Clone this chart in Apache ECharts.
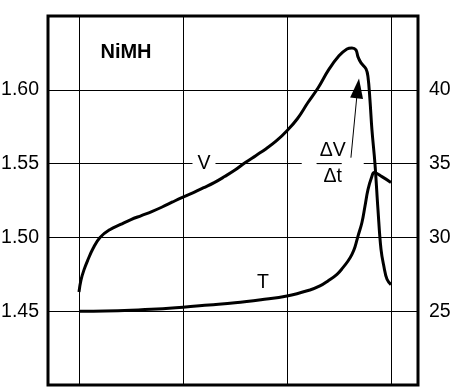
<!DOCTYPE html>
<html>
<head>
<meta charset="utf-8">
<script src="https://cdn.jsdelivr.net/npm/echarts@6/dist/echarts.min.js"></script>
<style>html,body{margin:0;padding:0;background:#fff;}#c{width:455px;height:392px;}</style>
</head>
<body>
<div id="c"></div>
<script>
// Voltage curve (left axis, volts) vs charge time (arbitrary units, gridlines at 0..3)
const timeV = [0, 0.019, 0.048, 0.087, 0.135, 0.202, 0.3, 0.4, 0.5, 0.6, 0.7, 0.8, 0.9, 1.0, 1.1, 1.2, 1.3, 1.4, 1.5, 1.6, 1.7, 1.8, 1.9, 2.0, 2.1, 2.2, 2.3, 2.4, 2.5, 2.577, 2.625, 2.663, 2.683, 2.712, 2.76, 2.779, 2.798, 2.817, 2.846, 2.875, 2.904, 2.933, 2.962, 3.0];
const voltage = [1.463, 1.471, 1.478, 1.485, 1.4925, 1.500, 1.5054, 1.5088, 1.5121, 1.5148, 1.5175, 1.5206, 1.524, 1.5273, 1.5304, 1.5337, 1.5371, 1.5412, 1.5456, 1.5507, 1.5554, 1.5601, 1.5655, 1.5723, 1.5804, 1.5912, 1.6014, 1.6135, 1.623, 1.6277, 1.6284, 1.627, 1.6223, 1.6182, 1.6142, 1.6088, 1.5932, 1.573, 1.550, 1.519, 1.492, 1.480, 1.4716, 1.468];
// Temperature curve (right axis, °C)
const timeT = [0, 0.25, 0.5, 0.75, 1.0, 1.25, 1.5, 1.75, 2.0, 2.221, 2.317, 2.394, 2.481, 2.538, 2.587, 2.625, 2.654, 2.683, 2.721, 2.75, 2.779, 2.817, 2.837, 2.913, 3.0];
const temperature = [25.0, 25.02, 25.07, 25.15, 25.27, 25.42, 25.57, 25.78, 26.03, 26.44, 26.71, 27.05, 27.5, 27.95, 28.4, 28.85, 29.35, 30.09, 31.01, 32.11, 33.24, 34.14, 34.39, 34.12, 33.72];
// Vertical gridline positions
const timeGrid = [0, 1, 2, 3];
// Axis ranges / ticks
const voltTicks = [1.40, 1.45, 1.50, 1.55, 1.60, 1.65];
const tempTicks = [20, 25, 30, 35, 40, 45];
// Annotation texts
const titleText = 'NiMH';
const vLabel = 'V';
const tLabel = 'T';

const font = "'Liberation Sans', Arial, Helvetica, sans-serif";
const chart = echarts.init(document.getElementById('c'), null, {renderer: 'canvas'});

const hidden = {color: 'transparent'};
const txt = {color: '#000', fontSize: 19.5, fontFamily: font};
chart.setOption({
  animation: false,
  backgroundColor: '#fff',
  grid: {left: 48, right: 37, top: 16, bottom: 7, show: true, borderColor: '#000', borderWidth: 3,
         backgroundColor: 'transparent', containLabel: false, outerBoundsMode: 'none'},
  xAxis: {type: 'value', min: -0.298, max: 3.26, axisLine: {show: false}, axisTick: {show: false}, axisLabel: {show: false}, splitLine: {show: false}},
  yAxis: [
    {type: 'value', min: voltTicks[0], max: voltTicks[voltTicks.length-1], interval: voltTicks[1]-voltTicks[0],
     axisLine: {show: false}, axisTick: {show: false},
     axisLabel: Object.assign({showMinLabel: false, showMaxLabel: false, margin: 9, formatter: v => v.toFixed(2)}, txt),
     splitLine: {show: true, lineStyle: {color: '#000', width: 1}}},
    {type: 'value', min: tempTicks[0], max: tempTicks[tempTicks.length-1], interval: tempTicks[1]-tempTicks[0],
     axisLine: {show: false}, axisTick: {show: false},
     axisLabel: Object.assign({showMinLabel: false, showMaxLabel: false, margin: 11, formatter: v => String(Math.round(v))}, txt),
     splitLine: {show: false}}
  ],
  series: [
    {
      name: 'T', type: 'line', yAxisIndex: 1, showSymbol: false, symbol: 'none', smooth: 0.4,
      data: timeT.map((t, i) => [t, temperature[i]]),
      lineStyle: {color: '#000', width: 3}, z: 3,
      markLine: {
        silent: true, symbol: ['none', 'none'], label: {show: false},
        lineStyle: {color: '#000', width: 1, type: 'solid'},
        data: timeGrid.map(t => ({xAxis: t}))
      },
      markPoint: {
        symbolSize: 0, itemStyle: hidden,
        data: [{coord: [1.769, 26.96], label: Object.assign({show: true, position: 'inside', formatter: tLabel}, txt)}]
      }
    },
    {
      name: 'V', type: 'line', yAxisIndex: 0, showSymbol: false, symbol: 'none', smooth: 0.4,
      data: timeV.map((t, i) => [t, voltage[i]]),
      lineStyle: {color: '#000', width: 3}, z: 4,
      markLine: {
        silent: true, symbol: ['none', 'none'], label: {show: false},
        lineStyle: {color: '#000', width: 1, type: 'solid'},
        data: [[{coord: [2.615, 1.554]}, {coord: [2.678, 1.600]}]]
      },
      markPoint: {
        silent: true,
        data: [
          {coord: [2.681, 1.601], symbol: 'triangle', symbolSize: [13, 20], symbolRotate: -7, itemStyle: {color: '#000'}, label: {show: false}},
          {coord: [0.452, 1.625], symbolSize: 0, itemStyle: hidden, label: {show: true, position: 'inside', formatter: titleText, color: '#000', fontSize: 20, fontWeight: 'bold', fontFamily: font}},
          {coord: [1.202, 1.55], symbolSize: 0, itemStyle: hidden, label: Object.assign({show: true, position: 'inside', formatter: vLabel, backgroundColor: '#fff', padding: [0, 5], lineHeight: 20}, txt)},
          {coord: [2.44, 1.55], symbolSize: 0, itemStyle: hidden, label: {show: true, position: 'inside', color: '#000', fontFamily: font,
            formatter: '{n|\u0394V}\n{w1| }{bar| }{w2| }\n{d|\u0394t}',
            rich: {
              n: Object.assign({lineHeight: 21}, txt),
              d: Object.assign({lineHeight: 21}, txt),
              w1: {width: 15, height: 5, backgroundColor: '#fff', fontSize: 2, lineHeight: 5},
              bar: {width: 25, height: 1, backgroundColor: '#000', fontSize: 1, lineHeight: 5},
              w2: {width: 22, height: 5, backgroundColor: '#fff', fontSize: 2, lineHeight: 5}
            }}}
        ]
      }
    }
  ]
});
</script>
</body>
</html>
